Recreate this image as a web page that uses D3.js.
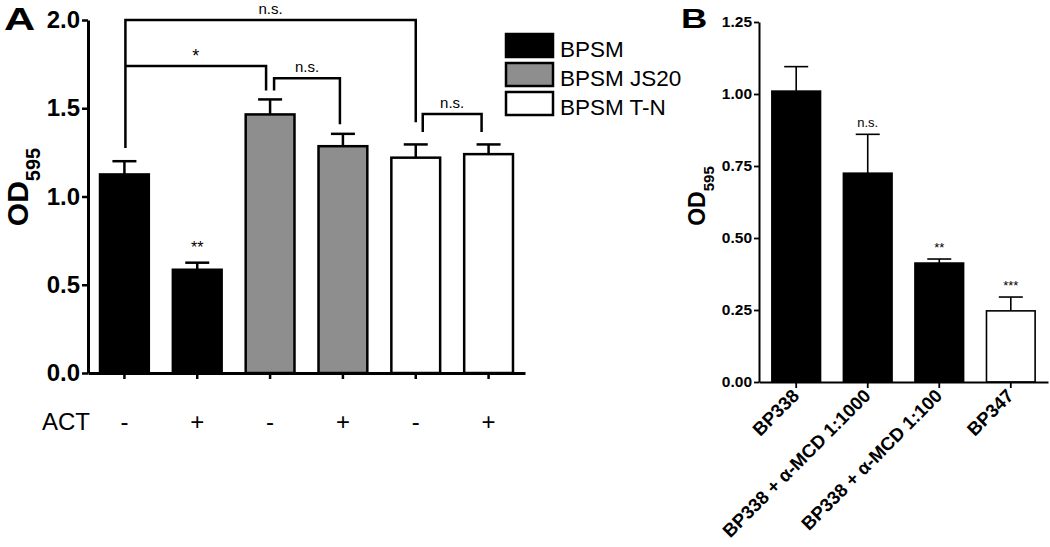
<!DOCTYPE html>
<html><head><meta charset="utf-8">
<script src="https://cdn.jsdelivr.net/npm/d3@7/dist/d3.min.js"></script>
<style>
body{margin:0;background:#fff;}
svg{display:block;font-family:"Liberation Sans",Arial,sans-serif;}
</style></head>
<body><svg id="c" width="1050" height="547"></svg>
<script>
// ---------- Panel A data ----------
const actLabels = ["-", "+", "-", "+", "-", "+"];
const strainA = ["BPSM", "BPSM", "BPSM JS20", "BPSM JS20", "BPSM T-N", "BPSM T-N"];
const valuesA = [1.125, 0.585, 1.465, 1.285, 1.22, 1.24];
const errorsA = [0.075, 0.04, 0.085, 0.07, 0.075, 0.055];
const yTicksA = [0.0, 0.5, 1.0, 1.5, 2.0];
const legendNames = ["BPSM", "BPSM JS20", "BPSM T-N"];
const starsA = ["", "**", "", "", "", ""];
// brackets: category indexes, bar level, leg end values
const bracketsA = [
  {from:0, to:4, level:2.0,  leftEnd:1.275, rightEnd:1.42, label:"n.s."},
  {from:0, to:2, level:1.74, leftEnd:1.74,  rightEnd:1.60, label:"*"},
  {from:2, to:3, level:1.67, leftEnd:1.60,  rightEnd:1.41, label:"n.s."},
  {from:4, to:5, level:1.467,leftEnd:1.365, rightEnd:1.365,label:"n.s."}
];
const bracketOffsets = [[1,0],[1,-4],[4,-3],[7,-7]];

// ---------- Panel B data ----------
const catsB = ["BP338", "BP338 + \u03B1-MCD 1:1000", "BP338 + \u03B1-MCD 1:100", "BP347"];
const valuesB = [1.01, 0.725, 0.413, 0.247];
const errorsB = [0.085, 0.135, 0.014, 0.048];
const starsB = ["", "n.s.", "**", "***"];
const fillB = ["#000", "#000", "#000", "#fff"];
const yTicksB = [0, 0.25, 0.5, 0.75, 1.0, 1.25];

const colorA = d3.scaleOrdinal().domain(legendNames).range(["#000000", "#8e8e8e", "#ffffff"]);
const svg = d3.select("#c");

// ================= Panel A =================
const xA = d3.scaleBand().domain(d3.range(6)).range([88, 525]).paddingInner(0.33).paddingOuter(0.165);
const yA = d3.scaleLinear().domain([0, 2]).range([373, 20]);
const gA = svg.append("g");

gA.selectAll("rect.bar").data(valuesA).join("rect")
  .attr("x", (d,i)=>xA(i)).attr("width", xA.bandwidth())
  .attr("y", d=>yA(d)).attr("height", d=>yA(0)-yA(d))
  .attr("fill", (d,i)=>colorA(strainA[i])).attr("stroke", "#000").attr("stroke-width", 2.5);

// error bars
const cx = i => xA(i) + xA.bandwidth()/2;
gA.selectAll("line.err").data(valuesA).join("line")
  .attr("x1",(d,i)=>cx(i)).attr("x2",(d,i)=>cx(i))
  .attr("y1",d=>yA(d)).attr("y2",(d,i)=>yA(d+errorsA[i]))
  .attr("stroke","#000").attr("stroke-width",2.5);
gA.selectAll("line.cap").data(valuesA).join("line")
  .attr("x1",(d,i)=>cx(i)-12).attr("x2",(d,i)=>cx(i)+12)
  .attr("y1",(d,i)=>yA(d+errorsA[i])).attr("y2",(d,i)=>yA(d+errorsA[i]))
  .attr("stroke","#000").attr("stroke-width",2.5);

// axes
const axYA = gA.append("g").attr("transform","translate(88,0)")
  .call(d3.axisLeft(yA).tickValues(yTicksA).tickFormat(d3.format(".1f")).tickSize(6).tickPadding(2).tickSizeOuter(0));
axYA.select(".domain").attr("stroke-width",3);
axYA.selectAll(".tick line").attr("stroke-width",2.5);
axYA.selectAll("text").attr("font-size",24).attr("font-weight","bold").attr("fill","#000")
  .attr("font-family","'Liberation Sans',Arial,sans-serif");

const axXA = gA.append("g").attr("transform","translate(0,373)")
  .call(d3.axisBottom(xA).tickFormat(i=>actLabels[i]).tickSize(6).tickPadding(34).tickSizeOuter(0));
axXA.select(".domain").attr("stroke-width",3);
axXA.selectAll(".tick line").attr("stroke-width",2.5);
axXA.selectAll("text").attr("font-size",24).attr("fill","#000")
  .attr("font-family","'Liberation Sans',Arial,sans-serif");

gA.append("text").attr("x",42).attr("y",430).attr("font-size",24).text("ACT");

// y title
const tA = gA.append("text").attr("transform","translate(28,187) rotate(-90)")
  .attr("text-anchor","middle").attr("font-weight","bold");
tA.append("tspan").attr("font-size",30).text("OD");
tA.append("tspan").attr("font-size",20).attr("dy",12).text("595");

// panel letter
gA.append("text").attr("x",4).attr("y",30).attr("font-size",32).attr("font-weight","bold")
  .attr("transform","translate(4,30) scale(1.35,1) translate(-4,-30)").text("A");

// stars above bars
gA.selectAll("text.star").data(starsA).join("text")
  .attr("x",(d,i)=>cx(i)).attr("y",(d,i)=>yA(valuesA[i]+errorsA[i])-10)
  .attr("text-anchor","middle").attr("font-size",16).text(d=>d);

// brackets
bracketsA.forEach((b,k)=>{
  const x1 = cx(b.from)+bracketOffsets[k][0], x2 = cx(b.to)+bracketOffsets[k][1];
  const path = d3.path();
  path.moveTo(x1, yA(b.leftEnd)); path.lineTo(x1, yA(b.level));
  path.lineTo(x2, yA(b.level)); path.lineTo(x2, yA(b.rightEnd));
  gA.append("path").attr("d", path.toString()).attr("fill","none").attr("stroke","#000").attr("stroke-width",2.5);
  gA.append("text").attr("x",(x1+x2)/2).attr("y",yA(b.level)-(b.label==="*"?4:6))
    .attr("text-anchor","middle").attr("font-size",b.label==="*"?18:15).text(b.label);
});

// legend
const lg = gA.append("g");
legendNames.forEach((n,i)=>{
  const y0 = 34 + i*29;
  lg.append("rect").attr("x",506).attr("y",y0).attr("width",47).attr("height",23)
    .attr("fill",colorA(n)).attr("stroke","#000").attr("stroke-width",2.5);
  lg.append("text").attr("x",560).attr("y",y0+23).attr("font-size",22.5).text(n);
});

// ================= Panel B =================
const xB = d3.scaleBand().domain(catsB).range([759, 1048]).paddingInner(0.32).paddingOuter(0.18);
const yB = d3.scaleLinear().domain([0, 1.25]).range([382, 22]);
const gB = svg.append("g");
const cxB = d => xB(d) + xB.bandwidth()/2;

gB.selectAll("rect.bar").data(catsB).join("rect")
  .attr("x", d=>xB(d)).attr("width", xB.bandwidth())
  .attr("y", (d,i)=>yB(valuesB[i])).attr("height",(d,i)=>yB(0)-yB(valuesB[i]))
  .attr("fill",(d,i)=>fillB[i]).attr("stroke","#000").attr("stroke-width",1.6);

gB.selectAll("line.err").data(catsB).join("line")
  .attr("x1",d=>cxB(d)).attr("x2",d=>cxB(d))
  .attr("y1",(d,i)=>yB(valuesB[i])).attr("y2",(d,i)=>yB(valuesB[i]+errorsB[i]))
  .attr("stroke","#000").attr("stroke-width",1.6);
gB.selectAll("line.cap").data(catsB).join("line")
  .attr("x1",d=>cxB(d)-12).attr("x2",d=>cxB(d)+12)
  .attr("y1",(d,i)=>yB(valuesB[i]+errorsB[i])).attr("y2",(d,i)=>yB(valuesB[i]+errorsB[i]))
  .attr("stroke","#000").attr("stroke-width",1.6);

gB.selectAll("text.star").data(catsB).join("text")
  .attr("x",d=>cxB(d)).attr("y",(d,i)=>yB(valuesB[i]+errorsB[i])-7)
  .attr("text-anchor","middle").attr("font-size",13).text((d,i)=>starsB[i]);

const axYB = gB.append("g").attr("transform","translate(759,0)")
  .call(d3.axisLeft(yB).tickValues(yTicksB).tickFormat(d3.format(".2f")).tickSize(5).tickPadding(2).tickSizeOuter(0));
axYB.select(".domain").attr("stroke-width",2);
axYB.selectAll(".tick line").attr("stroke-width",1.8);
axYB.selectAll("text").attr("font-size",15.5).attr("font-weight","bold").attr("fill","#000")
  .attr("font-family","'Liberation Sans',Arial,sans-serif");

const axXB = gB.append("g").attr("transform","translate(0,382)")
  .call(d3.axisBottom(xB).tickSize(6).tickSizeOuter(0));
axXB.select(".domain").attr("stroke-width",2);
axXB.selectAll(".tick line").attr("stroke-width",1.8);
axXB.selectAll("text").attr("font-size",18.5).attr("font-weight","bold").attr("fill","#000")
  .attr("font-family","'Liberation Sans',Arial,sans-serif")
  .attr("text-anchor","end").attr("dy",null).attr("y",null)
  .attr("transform","translate(4,15) rotate(-45)");

const tB = gB.append("text").attr("transform","translate(705,196) rotate(-90)")
  .attr("text-anchor","middle").attr("font-weight","bold");
tB.append("tspan").attr("font-size",23).text("OD");
tB.append("tspan").attr("font-size",15).attr("dy",9).text("595");

gB.append("text").attr("x",681).attr("y",28).attr("font-size",28).attr("font-weight","bold")
  .attr("transform","translate(681,28) scale(1.3,1) translate(-681,-28)").text("B");
</script></body></html>
